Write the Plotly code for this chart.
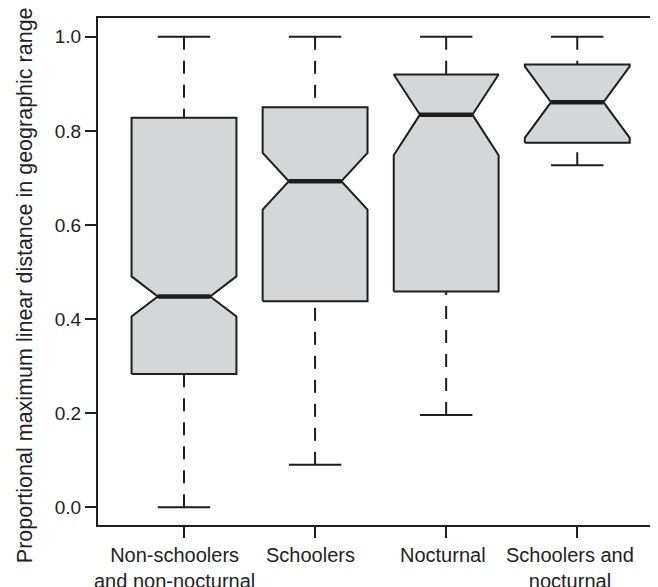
import plotly.graph_objects as go

categories = ["Non-schoolers<br>and non-nocturnal", "Schoolers", "Nocturnal", "Schoolers and<br>nocturnal"]
whisker_low = [0.0, 0.090, 0.196, 0.727]
q1 = [0.283, 0.4375, 0.4585, 0.7745]
notch_low = [0.4055, 0.6326, 0.748, 0.785]
median = [0.448, 0.693, 0.8345, 0.861]
notch_high = [0.4906, 0.753, 0.920, 0.937]
q3 = [0.828, 0.850, 0.920, 0.941]
whisker_high = [1.0, 1.0, 1.0, 1.0]
y_ticks = [0.0, 0.2, 0.4, 0.6, 0.8, 1.0]

positions = list(range(1, len(categories) + 1))
label_xshift = [-9, -5, -3, -7]
WID = 0.4
FRAC = 0.5
STAPLE = 0.2
LINE = "#1e1e1e"
FILL = "#d5d6d8"
TEXT = "#222222"

fig = go.Figure()

for i, x in enumerate(positions):
    # whiskers (dashed), drawn from the cap toward the box
    for yend, ybox in ((whisker_low[i], q1[i]), (whisker_high[i], q3[i])):
        fig.add_trace(go.Scatter(x=[x, x], y=[yend, ybox], mode="lines",
                                 line=dict(color=LINE, width=2, dash="13px,11px"),
                                 hoverinfo="skip", showlegend=False))
        fig.add_trace(go.Scatter(x=[x - STAPLE, x + STAPLE], y=[yend, yend], mode="lines",
                                 line=dict(color=LINE, width=2),
                                 hoverinfo="skip", showlegend=False))
    # notched box
    offs = [-1, 1, 1, FRAC, 1, 1, -1, -1, -FRAC, -1, -1]
    xx = [x + WID * o for o in offs]
    yy = [q1[i], q1[i], notch_low[i], median[i], notch_high[i], q3[i], q3[i],
          notch_high[i], median[i], notch_low[i], q1[i]]
    fig.add_trace(go.Scatter(x=xx, y=yy, mode="lines", fill="toself", fillcolor=FILL,
                             line=dict(color=LINE, width=2), hoverinfo="skip",
                             showlegend=False))
    # median
    fig.add_trace(go.Scatter(x=[x - WID * FRAC, x + WID * FRAC], y=[median[i], median[i]],
                             mode="lines", line=dict(color=LINE, width=4.5),
                             hoverinfo="skip", showlegend=False))

annotations = [dict(text="Proportional maximum linear distance in geographic range",
                    xref="paper", yref="paper", x=-0.1304, y=0.473, xanchor="center",
                    yanchor="middle", textangle=-90, showarrow=False,
                    font=dict(size=21.5, color=TEXT))]
for i, x in enumerate(positions):
    annotations.append(dict(text=categories[i], xref="x", yref="paper", x=x, y=0,
                            xanchor="center", yanchor="top", yshift=-17,
                            xshift=label_xshift[i], showarrow=False, align="center",
                            font=dict(size=20, color=TEXT)))

fig.update_layout(
    width=650, height=579,
    margin=dict(l=90, r=0, t=10, b=62, autoexpand=False),
    plot_bgcolor="white", paper_bgcolor="white",
    font=dict(family="Liberation Sans, Arial, sans-serif", size=19, color=TEXT),
    xaxis=dict(range=[0.344, 4.616], tickmode="array", tickvals=positions,
               showticklabels=False, showline=True, linecolor=LINE, linewidth=2,
               mirror=True, ticks="outside", ticklen=11, tickwidth=2, tickcolor=LINE,
               showgrid=False, zeroline=False, automargin=False),
    yaxis=dict(range=[-0.038, 1.04], tickmode="array", tickvals=y_ticks,
               ticktext=[f"{v:.1f}" for v in y_ticks], showline=True, linecolor=LINE,
               linewidth=2, mirror=False, ticks="outside", ticklen=11, tickwidth=2,
               tickcolor=LINE, showgrid=False, zeroline=False, automargin=False),
    annotations=annotations,
)

fig.write_html("out.html")
